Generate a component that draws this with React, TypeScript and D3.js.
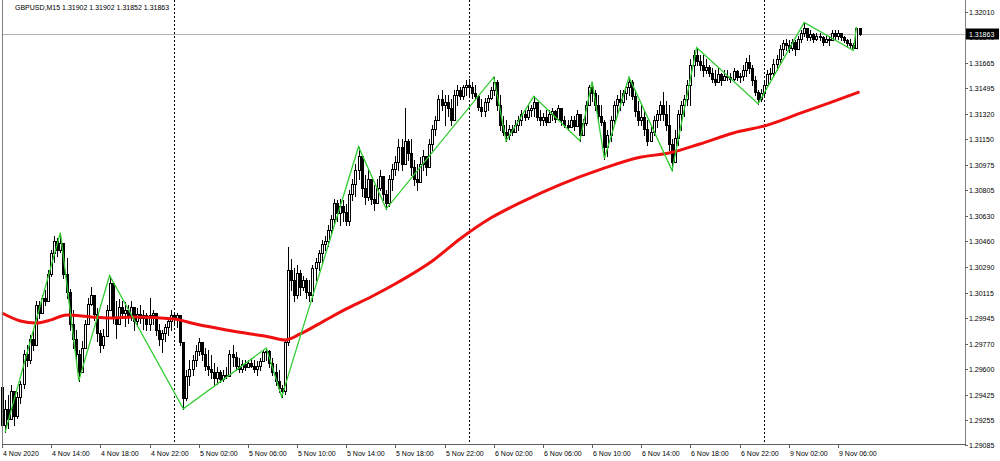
import React, { useEffect, useRef } from 'react';
import * as d3 from 'd3';

// prices are stored in pips above 1.2900
const BASE = 1.29;
const PIP = 0.0001;

const title = 'GBPUSD,M15  1.31902 1.31902 1.31852 1.31863';
const lastPrice = 1.31863;

const firstOpen = 48;

const closes = [
  22, 33, 26, 45, 28, 41, 50, 70, 66, 80,
  76, 103, 98, 108, 106, 124, 138, 146, 140, 145,
  124, 112, 90, 80, 70, 58, 74, 90, 104, 110,
  97, 84, 76, 82, 100, 118, 95, 90, 102, 98,
  100, 95, 102, 92, 97, 94, 96, 90, 96, 98,
  86, 80, 84, 88, 92, 96, 94, 96, 78, 40,
  55, 60, 66, 72, 78, 70, 62, 60, 58, 54,
  58, 53, 56, 55, 70, 68, 62, 60, 63, 61,
  64, 62, 60, 62, 65, 71, 72, 64, 58, 52,
  47, 45, 78, 127, 120, 110, 125, 115, 120, 112,
  110, 128, 132, 138, 144, 146, 154, 161, 172, 165,
  170, 166, 160, 178, 185, 194, 204, 182, 176, 188,
  175, 172, 182, 190, 178, 172, 188, 195, 200, 210,
  198, 214, 206, 196, 188, 186, 198, 204, 196, 212,
  222, 228, 242, 238, 240, 236, 228, 245, 248, 244,
  250, 252, 250, 246, 244, 237, 234, 240, 243, 248,
  254, 238, 225, 220, 218, 222, 220, 225, 228, 232,
  230, 235, 236, 240, 230, 228, 230, 227, 232, 234,
  229, 236, 228, 225, 223, 228, 224, 232, 218, 226,
  238, 250, 246, 238, 231, 227, 210, 218, 228, 238,
  242, 240, 246, 250, 254, 244, 234, 228, 230, 222,
  214, 220, 228, 232, 238, 232, 225, 212, 200, 216,
  232, 238, 242, 252, 265, 272, 268, 265, 262, 264,
  260, 256, 254, 259, 255, 258, 257, 256, 261, 257,
  258, 262, 267, 263, 255, 247, 242, 246, 252, 259,
  260, 266, 269, 276, 280, 279, 277, 281, 276, 283,
  287, 290, 284, 286, 283, 285, 284, 281, 283, 282,
  287, 285, 287, 284, 282, 280, 279, 277, 290.2, 286.3,
];

const highs = [
  50, 39, 42, 49, 40, 44, 52, 73, 76, 83,
  86, 106, 106, 110, 113, 127, 140, 150, 148, 152,
  142, 135, 114, 100, 86, 73, 79, 93, 108, 115,
  110, 101, 86, 87, 103, 123, 118, 106, 107, 106,
  105, 103, 106, 100, 101, 103, 100, 98, 108, 100,
  96, 90, 86, 90, 94, 100, 98, 98, 94, 76,
  59, 66, 69, 76, 81, 76, 74, 73, 69, 64,
  61, 59, 59, 61, 73, 76, 71, 67, 66, 66,
  66, 67, 66, 65, 67, 73, 74, 73, 67, 63,
  59, 49, 80, 142, 134, 128, 130, 127, 123, 121,
  120, 130, 135, 140, 147, 150, 157, 164, 175, 174,
  175, 174, 171, 181, 188, 198, 210, 204, 191, 194,
  184, 184, 188, 194, 188, 181, 191, 198, 204, 215,
  215, 236, 215, 215, 201, 198, 203, 208, 204, 215,
  225, 231, 245, 248, 245, 245, 242, 248, 252, 250,
  252, 255, 256, 254, 252, 245, 242, 243, 245, 250,
  257, 255, 245, 231, 228, 225, 225, 228, 231, 235,
  235, 238, 238, 244, 236, 235, 233, 235, 235, 236,
  235, 238, 235, 231, 228, 231, 231, 235, 228, 229,
  241, 252, 254, 248, 245, 238, 228, 221, 231, 241,
  245, 248, 248, 252, 257, 255, 248, 241, 238, 235,
  228, 225, 231, 235, 241, 247, 241, 238, 215, 221,
  235, 241, 245, 255, 269, 275, 277, 272, 272, 269,
  265, 263, 262, 263, 260, 262, 262, 260, 263, 262,
  260, 265, 270, 272, 265, 258, 248, 249, 255, 262,
  263, 269, 272, 279, 282, 283, 282, 283, 282, 285,
  289, 294, 290, 289, 287, 287, 287, 285, 285, 285,
  289, 289, 289, 287, 285, 283, 283, 280, 291, 290.2,
];

const lows = [
  19, 17, 20, 29, 22, 27, 37, 47, 62, 64,
  73, 83, 94, 98, 103, 112, 123, 132, 136, 139,
  121, 108, 86, 74, 65, 52, 58, 74, 91, 103,
  93, 79, 71, 74, 83, 103, 91, 81, 91, 94,
  89, 91, 93, 86, 89, 91, 87, 86, 86, 90,
  83, 76, 71, 79, 83, 86, 90, 88, 76, 33,
  39, 49, 56, 62, 69, 66, 59, 56, 54, 49,
  50, 51, 52, 54, 55, 62, 59, 58, 58, 59,
  61, 61, 58, 56, 59, 65, 66, 61, 56, 49,
  44, 41, 43, 76, 113, 106, 108, 110, 113, 108,
  106, 106, 120, 127, 132, 140, 143, 152, 157, 160,
  157, 160, 157, 157, 174, 177, 188, 177, 171, 174,
  171, 167, 174, 181, 174, 168, 170, 181, 191, 194,
  194, 198, 201, 191, 184, 181, 186, 194, 191, 196,
  208, 218, 228, 235, 225, 231, 225, 228, 238, 242,
  242, 245, 245, 243, 242, 235, 231, 231, 235, 242,
  245, 235, 221, 218, 214, 215, 218, 221, 221, 225,
  228, 229, 231, 231, 228, 225, 225, 225, 227, 228,
  227, 228, 225, 223, 221, 223, 221, 225, 214, 218,
  225, 238, 241, 235, 228, 225, 202, 204, 214, 225,
  231, 235, 238, 242, 245, 242, 231, 225, 225, 218,
  211, 215, 218, 223, 228, 228, 221, 208, 194, 201,
  211, 221, 231, 238, 238, 258, 265, 262, 258, 260,
  258, 254, 252, 255, 252, 255, 255, 254, 255, 255,
  254, 255, 258, 260, 252, 245, 239, 241, 245, 252,
  256, 258, 262, 267, 272, 275, 274, 275, 272, 279,
  281, 285, 282, 282, 281, 282, 282, 279, 281, 279,
  282, 283, 283, 282, 281, 278, 277, 275, 277, 285.2,
];

// ZigZag turning points (bar index, pips)
const zzIndex = [1, 19, 25, 35, 59, 86, 91, 116, 125, 160, 164, 173, 188, 192, 196, 204, 218, 226, 246, 261, 277, 278];
const zzPips = [17, 152, 52, 123, 33, 74, 41, 210, 168, 257, 214, 244, 214, 254, 202, 257, 194, 277, 239, 294, 275, 291];

// moving average (bar index, pips)
const maIndex = [0, 6, 11, 16, 21, 29, 35, 43, 56, 63, 73, 81, 87, 92, 97, 103, 112, 120, 129, 140, 149, 159, 169, 182, 195, 208, 217, 227, 238, 248, 260, 269, 279];
const maPips = [97.7, 92.3, 90.9, 93.0, 96.3, 95.0, 94.3, 95.0, 93.6, 90.2, 86.2, 83.5, 81.5, 79.4, 83.5, 90.2, 100.4, 108.5, 118.6, 132.8, 147.7, 161.8, 172.6, 184.8, 194.9, 203.0, 205.7, 211.8, 219.3, 224.0, 232.8, 239.5, 247.0];

const timeLabels = [
  '4 Nov 2020', '4 Nov 14:00', '4 Nov 18:00', '4 Nov 22:00', '5 Nov 02:00', '5 Nov 06:00',
  '5 Nov 10:00', '5 Nov 14:00', '5 Nov 18:00', '5 Nov 22:00', '6 Nov 02:00', '6 Nov 06:00',
  '6 Nov 10:00', '6 Nov 14:00', '6 Nov 18:00', '6 Nov 22:00', '9 Nov 02:00', '9 Nov 06:00',
];
const LABEL_STEP = 16; // 4 hours of M15 bars
const daySeparators = [56, 152, 248];

const priceTicks = [
  '1.32010', '1.31840', '1.31665', '1.31495', '1.31320', '1.31150', '1.30975', '1.30805', '1.30630',
  '1.30460', '1.30290', '1.30115', '1.29945', '1.29770', '1.29600', '1.29425', '1.29255', '1.29085',
];

const W = 1000;
const H = 461;
const plotLeft = 2;
const plotRight = 965;
const plotBottom = 444;
const FONT = "'Liberation Sans', Arial, sans-serif";

const toPrice = (p: number) => BASE + p * PIP;

const App: React.FC = () => {
  const svgRef = useRef<SVGSVGElement>(null);

  useEffect(() => {
    if (!svgRef.current) return;
    document.body.style.margin = '0';
    const svg = d3.select(svgRef.current);
    svg.selectAll('*').remove();

    const x = d3.scaleLinear().domain([0, 272]).range([2, 838]);
    const y = d3.scaleLinear().domain([1.29085, 1.32010]).range([445, 12]);

    svg.append('rect').attr('width', W).attr('height', H).attr('fill', '#fff');

    // day separators
    daySeparators.forEach(i => {
      const sx = Math.round(x(i)) + 0.5;
      svg.append('line')
        .attr('x1', sx).attr('x2', sx)
        .attr('y1', 0).attr('y2', plotBottom)
        .attr('stroke', '#000')
        .attr('stroke-dasharray', '2,2');
    });

    // current price line
    const ly = Math.round(y(lastPrice)) + 0.5;
    svg.append('line')
      .attr('x1', plotLeft).attr('x2', plotRight)
      .attr('y1', ly).attr('y2', ly)
      .attr('stroke', '#b4b4b4');

    // candles
    const opens = closes.map((_, i) => (i === 0 ? firstOpen : closes[i - 1]));
    const g = svg.append('g');
    closes.forEach((c, i) => {
      const o = opens[i];
      const hi = Math.max(highs[i], o, c);
      const lo = Math.min(lows[i], o, c);
      const px = Math.round(x(i));
      g.append('line')
        .attr('x1', px + 0.5).attr('x2', px + 0.5)
        .attr('y1', Math.round(y(toPrice(hi)))).attr('y2', Math.round(y(toPrice(lo))) + 1)
        .attr('stroke', '#000');
      const top = Math.round(y(toPrice(Math.max(o, c))));
      const bot = Math.round(y(toPrice(Math.min(o, c))));
      const h = Math.max(bot - top, 1);
      if (c >= o) {
        g.append('rect')
          .attr('x', px - 0.5).attr('y', top + 0.5)
          .attr('width', 2).attr('height', h)
          .attr('fill', '#fff').attr('stroke', '#000');
      } else {
        g.append('rect')
          .attr('x', px - 1).attr('y', top)
          .attr('width', 3).attr('height', h + 1)
          .attr('fill', '#000');
      }
    });

    // moving average
    const maLine = d3.line<number>()
      .x((_, k) => x(maIndex[k]))
      .y(v => y(toPrice(v)))
      .curve(d3.curveMonotoneX);
    svg.append('path')
      .attr('d', maLine(maPips))
      .attr('fill', 'none')
      .attr('stroke', '#f01010')
      .attr('stroke-width', 3);

    // zigzag
    const zzLine = d3.line<number>()
      .x((_, k) => x(zzIndex[k]))
      .y(v => y(toPrice(v)));
    svg.append('path')
      .attr('d', zzLine(zzPips))
      .attr('fill', 'none')
      .attr('stroke', '#32cd32')
      .attr('stroke-width', 1.3);

    // frame
    svg.append('line')
      .attr('x1', plotLeft + 0.5).attr('x2', plotLeft + 0.5)
      .attr('y1', 0).attr('y2', plotBottom + 1)
      .attr('stroke', '#808080');
    svg.append('line')
      .attr('x1', plotRight + 0.5).attr('x2', plotRight + 0.5)
      .attr('y1', 0).attr('y2', plotBottom + 1)
      .attr('stroke', '#808080');
    svg.append('line')
      .attr('x1', plotLeft).attr('x2', plotRight + 1)
      .attr('y1', plotBottom + 0.5).attr('y2', plotBottom + 0.5)
      .attr('stroke', '#606060');

    // price axis
    priceTicks.forEach(t => {
      const ty = Math.round(y(+t)) + 0.5;
      svg.append('line')
        .attr('x1', plotRight).attr('x2', plotRight + 3)
        .attr('y1', ty).attr('y2', ty)
        .attr('stroke', '#606060');
      svg.append('text')
        .attr('x', 969).attr('y', ty)
        .attr('dy', '0.35em')
        .attr('font-family', FONT)
        .attr('font-size', 7)
        .attr('fill', '#000')
        .text(t);
    });

    // current price label
    svg.append('rect')
      .attr('x', 966).attr('y', ly - 6)
      .attr('width', 33).attr('height', 11)
      .attr('fill', '#000');
    svg.append('text')
      .attr('x', 969).attr('y', ly)
      .attr('dy', '0.35em')
      .attr('font-family', FONT)
      .attr('font-size', 7)
      .attr('fill', '#fff')
      .text(lastPrice.toFixed(5));

    // time axis
    timeLabels.forEach((t, k) => {
      const tx = Math.round(x(k * LABEL_STEP)) + 0.5;
      svg.append('line')
        .attr('x1', tx).attr('x2', tx)
        .attr('y1', plotBottom).attr('y2', plotBottom + 4)
        .attr('stroke', '#606060');
      svg.append('text')
        .attr('x', tx + 0.5).attr('y', 456)
        .attr('font-family', FONT)
        .attr('font-size', 7)
        .attr('fill', '#000')
        .text(t);
    });

    // title
    svg.append('text')
      .attr('x', 15).attr('y', 10)
      .attr('font-family', FONT)
      .attr('font-size', 7)
      .attr('fill', '#000')
      .text(title);
  }, []);

  return (
    <div style={{ position: 'absolute', left: 0, top: 0 }}>
      <svg ref={svgRef} width={W} height={H} style={{ display: 'block' }} />
    </div>
  );
};

export default App;
